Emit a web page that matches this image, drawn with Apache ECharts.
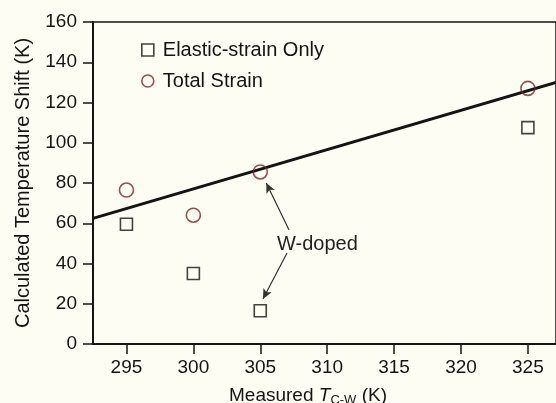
<!DOCTYPE html>
<html>
<head>
<meta charset="utf-8">
<script src="https://cdn.jsdelivr.net/npm/echarts@6/dist/echarts.min.js"></script>
<style>
  html, body { margin: 0; padding: 0; background: #fefdf4; }
  #main { width: 556px; height: 403px; }
</style>
</head>
<body>
<div id="main"></div>
<script>
'use strict'
// measured transition temperatures and calculated shifts
var tempMeasured = [295, 300, 305, 325];
var elasticShift = [59.5, 35, 16.5, 107.5];
var totalShift = [76.5, 64, 85.5, 127];

// straight fit line end points
var fitX = [292.5, 327.1];
var fitY = [62.4, 130];

var xTicks = [295, 300, 305, 310, 315, 320, 325];

// W-doped annotation: label anchor and arrows (tail -> head)
var noteAt = [306.25, 49.5];
var arrowUp = [[307.15, 56.6], [305.45, 80]];
var arrowDown = [[307.0, 45.2], [305.2, 22.4]];

var font = 'Liberation Sans, Arial, sans-serif';
var ink = '#141414';
var red = '#7a2525';

var option = {
    backgroundColor: '#fefdf4',
    animation: false,
    textStyle: { fontFamily: font },
    grid: {
        left: 93,
        right: 0,
        top: 22,
        bottom: 59,
        outerBoundsMode: 'none',
        show: true,
        borderColor: ink,
        borderWidth: 1.5,
        backgroundColor: 'transparent'
    },
    legend: {
        orient: 'vertical',
        left: 136,
        top: 35,
        itemWidth: 12,
        itemHeight: 12,
        itemGap: 11,
        textStyle: { fontSize: 20, color: ink, fontFamily: font, padding: [0, 0, 0, 4] },
        data: [
            { name: 'Elastic-strain Only', icon: 'rect',
              itemStyle: { color: 'transparent', borderColor: ink, borderWidth: 1.6 } },
            { name: 'Total Strain', icon: 'circle',
              itemStyle: { color: 'transparent', borderColor: red, borderWidth: 1.6 } }
        ]
    },
    xAxis: {
        type: 'value',
        min: fitX[0],
        max: fitX[1],
        splitLine: { show: false },
        axisLine: { onZero: false, lineStyle: { color: ink, width: 2 } },
        axisTick: { length: 10, lineStyle: { color: ink, width: 1.5 }, customValues: xTicks },
        axisLabel: { fontSize: 19, color: ink, margin: 14, customValues: xTicks },
        name: 'Measured {i|T}{sub|C-W} (K)',
        nameLocation: 'middle',
        nameGap: 40,
        nameTextStyle: {
            fontSize: 19, color: ink, padding: [0, 33, 0, 0],
            rich: {
                i: { fontSize: 19, fontStyle: 'italic', color: ink },
                sub: { fontSize: 13, color: ink, verticalAlign: 'bottom', padding: [10, 0, 0, 0] }
            }
        }
    },
    yAxis: {
        type: 'value',
        min: 0,
        max: 160,
        interval: 20,
        splitLine: { show: false },
        axisLine: { lineStyle: { color: ink, width: 2 } },
        axisTick: { length: 10, lineStyle: { color: ink, width: 1.5 } },
        axisLabel: { fontSize: 19, color: ink, margin: 16 },
        name: 'Calculated Temperature Shift (K)',
        nameLocation: 'middle',
        nameGap: 60,
        nameTextStyle: { fontSize: 20, color: ink }
    },
    series: [
        {
            name: 'Fit',
            type: 'line',
            data: fitX.map(function (x, i) { return [x, fitY[i]]; }),
            showSymbol: false,
            lineStyle: { color: ink, width: 3 },
            z: 2
        },
        {
            name: 'Elastic-strain Only',
            type: 'scatter',
            symbol: 'rect',
            symbolSize: 12,
            data: tempMeasured.map(function (x, i) { return [x, elasticShift[i]]; }),
            itemStyle: { color: 'transparent', borderColor: ink, borderWidth: 1.6 },
            z: 3,
            markLine: {
                silent: true,
                symbol: ['none', 'arrow'],
                symbolSize: [7, 10],
                lineStyle: { color: '#333', width: 1.2, type: 'solid' },
                label: { show: false },
                data: [
                    [{ coord: arrowUp[0] }, { coord: arrowUp[1] }],
                    [{ coord: arrowDown[0] }, { coord: arrowDown[1] }]
                ]
            },
            markPoint: {
                silent: true,
                symbol: 'circle',
                symbolSize: 0,
                label: {
                    show: true,
                    position: 'right',
                    distance: 0,
                    formatter: 'W-doped',
                    fontSize: 20,
                    color: '#222',
                    fontFamily: font
                },
                data: [{ coord: noteAt }]
            }
        },
        {
            name: 'Total Strain',
            type: 'scatter',
            symbol: 'circle',
            symbolSize: 14,
            data: tempMeasured.map(function (x, i) { return [x, totalShift[i]]; }),
            itemStyle: { color: 'transparent', borderColor: red, borderWidth: 1.6 },
            z: 4
        }
    ]
};

var chart = echarts.init(document.getElementById('main'));
chart.setOption(option);
</script>
</body>
</html>
